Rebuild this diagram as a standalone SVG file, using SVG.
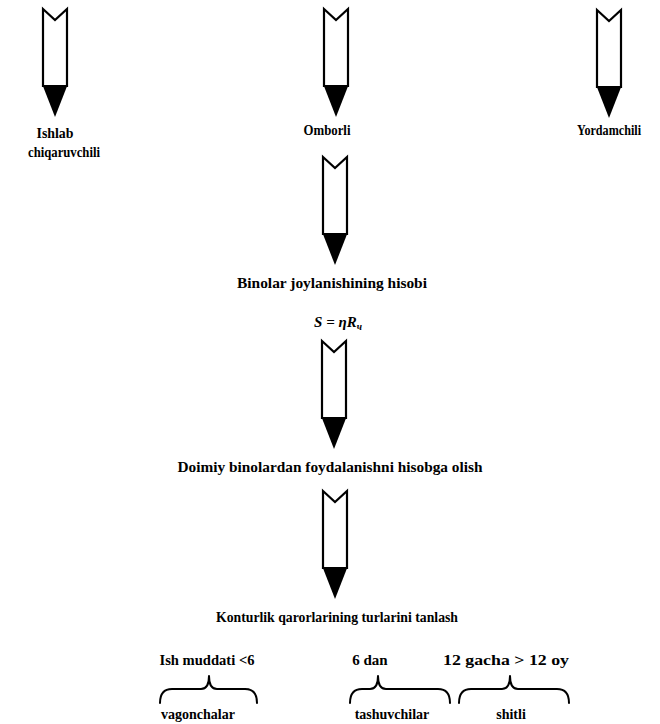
<svg xmlns="http://www.w3.org/2000/svg" width="660" height="724" viewBox="0 0 660 724">
<style>
.t{font-family:"Liberation Serif","Times New Roman",serif;font-weight:bold;font-size:14px;fill:#000;text-anchor:middle}
.m{font-size:15px}
.f{font-family:"Liberation Serif","Times New Roman",serif;font-weight:bold;font-style:italic;font-size:15px;fill:#000;text-anchor:middle}
.brace{fill:none;stroke:#000;stroke-width:2;stroke-linecap:round;stroke-linejoin:round}
.body{fill:#fff;stroke:#000;stroke-width:2.2;stroke-linejoin:miter}
</style>
<defs>
<g id="arrow">
<path class="body" d="M-12,0 L0,11 L12,0 L12,77 L-12,77 Z"/>
<path d="M-12.5,76 L12.5,76 L0,108 Z" fill="#000"/>
</g>
</defs>
<rect width="660" height="724" fill="#fff"/>
<g id="connectors">
<use href="#arrow" x="55" y="9"/>
<use href="#arrow" x="336" y="9"/>
<use href="#arrow" x="609" y="10"/>
<use href="#arrow" x="335" y="157"/>
<use href="#arrow" x="334" y="341"/>
<use href="#arrow" x="335" y="491"/>
<path class="brace" d="M160,703 Q160,689 172,689 L201,689 Q209,689 209,676 Q209,689 217,689 L245,689 Q257,689 257,703"/>
<path class="brace" d="M350,703 Q350,689 362,689 L370,689 Q378,689 378,676 Q378,689 386,689 L438,689 Q450,689 450,703"/>
<path class="brace" d="M459,703 Q459,689 471,689 L502,689 Q510,689 510,676 Q510,689 518,689 L557,689 Q569,689 569,703"/>
</g>
<g id="n-ishlab"><text class="t" x="55" y="138" textLength="37" lengthAdjust="spacingAndGlyphs">Ishlab</text><text class="t" x="64" y="157" textLength="72" lengthAdjust="spacingAndGlyphs">chiqaruvchili</text></g>
<g id="n-omborli"><text class="t" x="327" y="135" textLength="47" lengthAdjust="spacingAndGlyphs">Omborli</text></g>
<g id="n-yordamchili"><text class="t" x="609" y="135" textLength="64" lengthAdjust="spacingAndGlyphs">Yordamchili</text></g>
<g id="n-binolar"><text class="t m" x="332" y="288" textLength="190" lengthAdjust="spacingAndGlyphs">Binolar joylanishining hisobi</text></g>
<g id="n-formula"><text class="f" x="338" y="327">S = ηR<tspan font-size="10" dy="3">ч</tspan></text></g>
<g id="n-doimiy"><text class="t m" x="330" y="472" textLength="305" lengthAdjust="spacingAndGlyphs">Doimiy binolardan foydalanishni hisobga olish</text></g>
<g id="n-konturlik"><text class="t m" x="337" y="622" textLength="242" lengthAdjust="spacingAndGlyphs">Konturlik qarorlarining turlarini tanlash</text></g>
<g id="n-ish"><text class="t m" x="207" y="665" textLength="95" lengthAdjust="spacingAndGlyphs">Ish muddati &lt;6</text></g>
<g id="n-6dan"><text class="t m" x="370" y="665">6 dan</text></g>
<g id="n-12"><text class="t m" x="506" y="665" textLength="126" lengthAdjust="spacingAndGlyphs">12 gacha &gt; 12 oy</text></g>
<g id="n-vagon"><text class="t" x="198" y="719">vagonchalar</text></g>
<g id="n-tash"><text class="t" x="392" y="719">tashuvchilar</text></g>
<g id="n-shitli"><text class="t" x="511" y="719">shitli</text></g>
</svg>
